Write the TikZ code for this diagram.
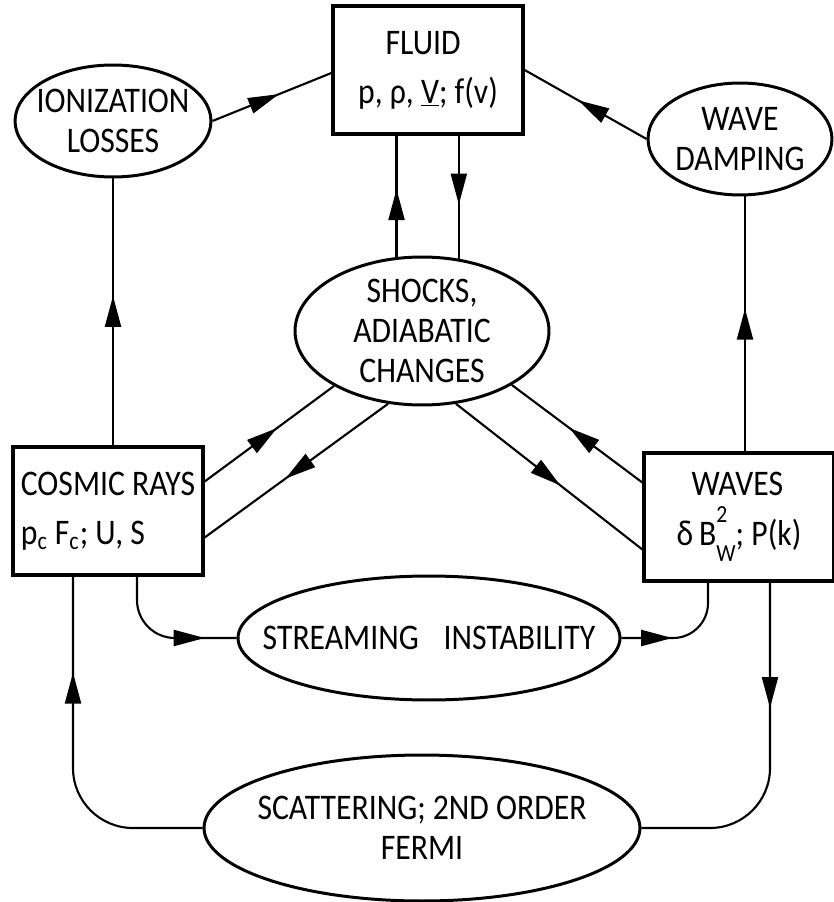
\documentclass[tikz,border=0pt]{standalone}
\usepackage{fontspec}
\setmainfont{Carlito}[FakeStretch=0.88]
\usetikzlibrary{shapes.geometric,arrows.meta,decorations.markings}

\newcommand{\bsq}{B\rlap{\raisebox{0.62em}{\fontsize{14}{14}\selectfont 2}}\raisebox{-0.45em}{\fontsize{14}{14}\selectfont W}}

\tikzset{
  box/.style={draw, line width=1.9pt, minimum width=3.8cm, minimum height=2.56cm, align=left, inner sep=0pt},
  oval/.style={ellipse, draw, line width=1.7pt, inner sep=0pt},
  conn/.style={line width=1.2pt},
  midarrow/.style={postaction={decorate}, decoration={markings,
    mark=at position #1 with {\arrow{Triangle[length=0.62cm,width=0.32cm]}}}},
  midarrow/.default=0.56,
  every label/.style={align=center, inner sep=0pt}
}

\begin{document}
\begin{tikzpicture}[x=0.02cm, y=-0.02cm, font=\fontsize{20.5}{23}\selectfont]
\useasboundingbox (0,0) rectangle (834,902);
% boxes
\node[box] (fluid) at (428,70) {\hspace{0.55cm}FLUID\\[5pt]p, ρ, \underline{V}; f(v)};
\node[box] (cr) at (108,511) {COSMIC RAYS\\[5pt]p\textsubscript{c} F\textsubscript{c}; U, S};
\node[box] (waves) at (739,517) {\hspace{0.3cm}WAVES\\[5pt]δ\,\bsq; P(k)};
% ovals
\node[oval, minimum width=3.92cm, minimum height=2.24cm,
  label=center:{IONIZATION\\LOSSES}] (ion) at (113,121) {};
\node[oval, minimum width=3.68cm, minimum height=2.24cm,
  label=center:{WAVE\\DAMPING}] (damp) at (740,139) {};
\node[oval, minimum width=5.08cm, minimum height=2.96cm,
  label=center:{SHOCKS,\\ADIABATIC\\CHANGES}] (shock) at (422,331) {};
\node[oval, minimum width=7.64cm, minimum height=2.48cm,
  label=center:{STREAMING\hspace{0.5cm}INSTABILITY}] (stream) at (429,638) {};
\node[oval, minimum width=8.72cm, minimum height=2.92cm,
  label=center:{SCATTERING; 2ND ORDER\\FERMI}] (scat) at (422,828) {};

% connectors
\draw[conn, midarrow] (ion.east) -- ([yshift=-0.06cm]fluid.west);
\draw[conn, midarrow] (damp.west) -- (fluid.east);
\draw[conn, midarrow] (shock.109) -- (shock.109 |- fluid.south);
\draw[conn, midarrow] (shock.63 |- fluid.south) -- (shock.63);
\draw[conn, midarrow] (ion.south |- cr.north) -- (ion.south);
\draw[conn, midarrow] ([xshift=0.12cm]waves.north) -- ([xshift=0.12cm]waves.north |- damp.south);
\draw[conn, midarrow] ([yshift=0.59cm]cr.east) -- (shock.212.6);
\draw[conn, midarrow] (shock.245.3) -- ([yshift=-0.53cm]cr.east);
\draw[conn, midarrow] (shock.295.9) -- ([yshift=-0.65cm]waves.west);
\draw[conn, midarrow] ([yshift=0.69cm]waves.west) -- (shock.329.7);
\draw[conn, rounded corners=0.76cm, midarrow=0.78] ([xshift=0.58cm]cr.south) |- (stream.west);
\draw[conn, rounded corners=0.7cm, midarrow=0.4] (stream.east) -| ([xshift=-0.62cm]waves.south);
\draw[conn, rounded corners=1.2cm, midarrow=0.36] ([xshift=0.62cm]waves.south) |- (scat.east);
\draw[conn, rounded corners=1.2cm, midarrow=0.73] (scat.west) -| ([xshift=-0.7cm]cr.south);
\end{tikzpicture}
\end{document}
